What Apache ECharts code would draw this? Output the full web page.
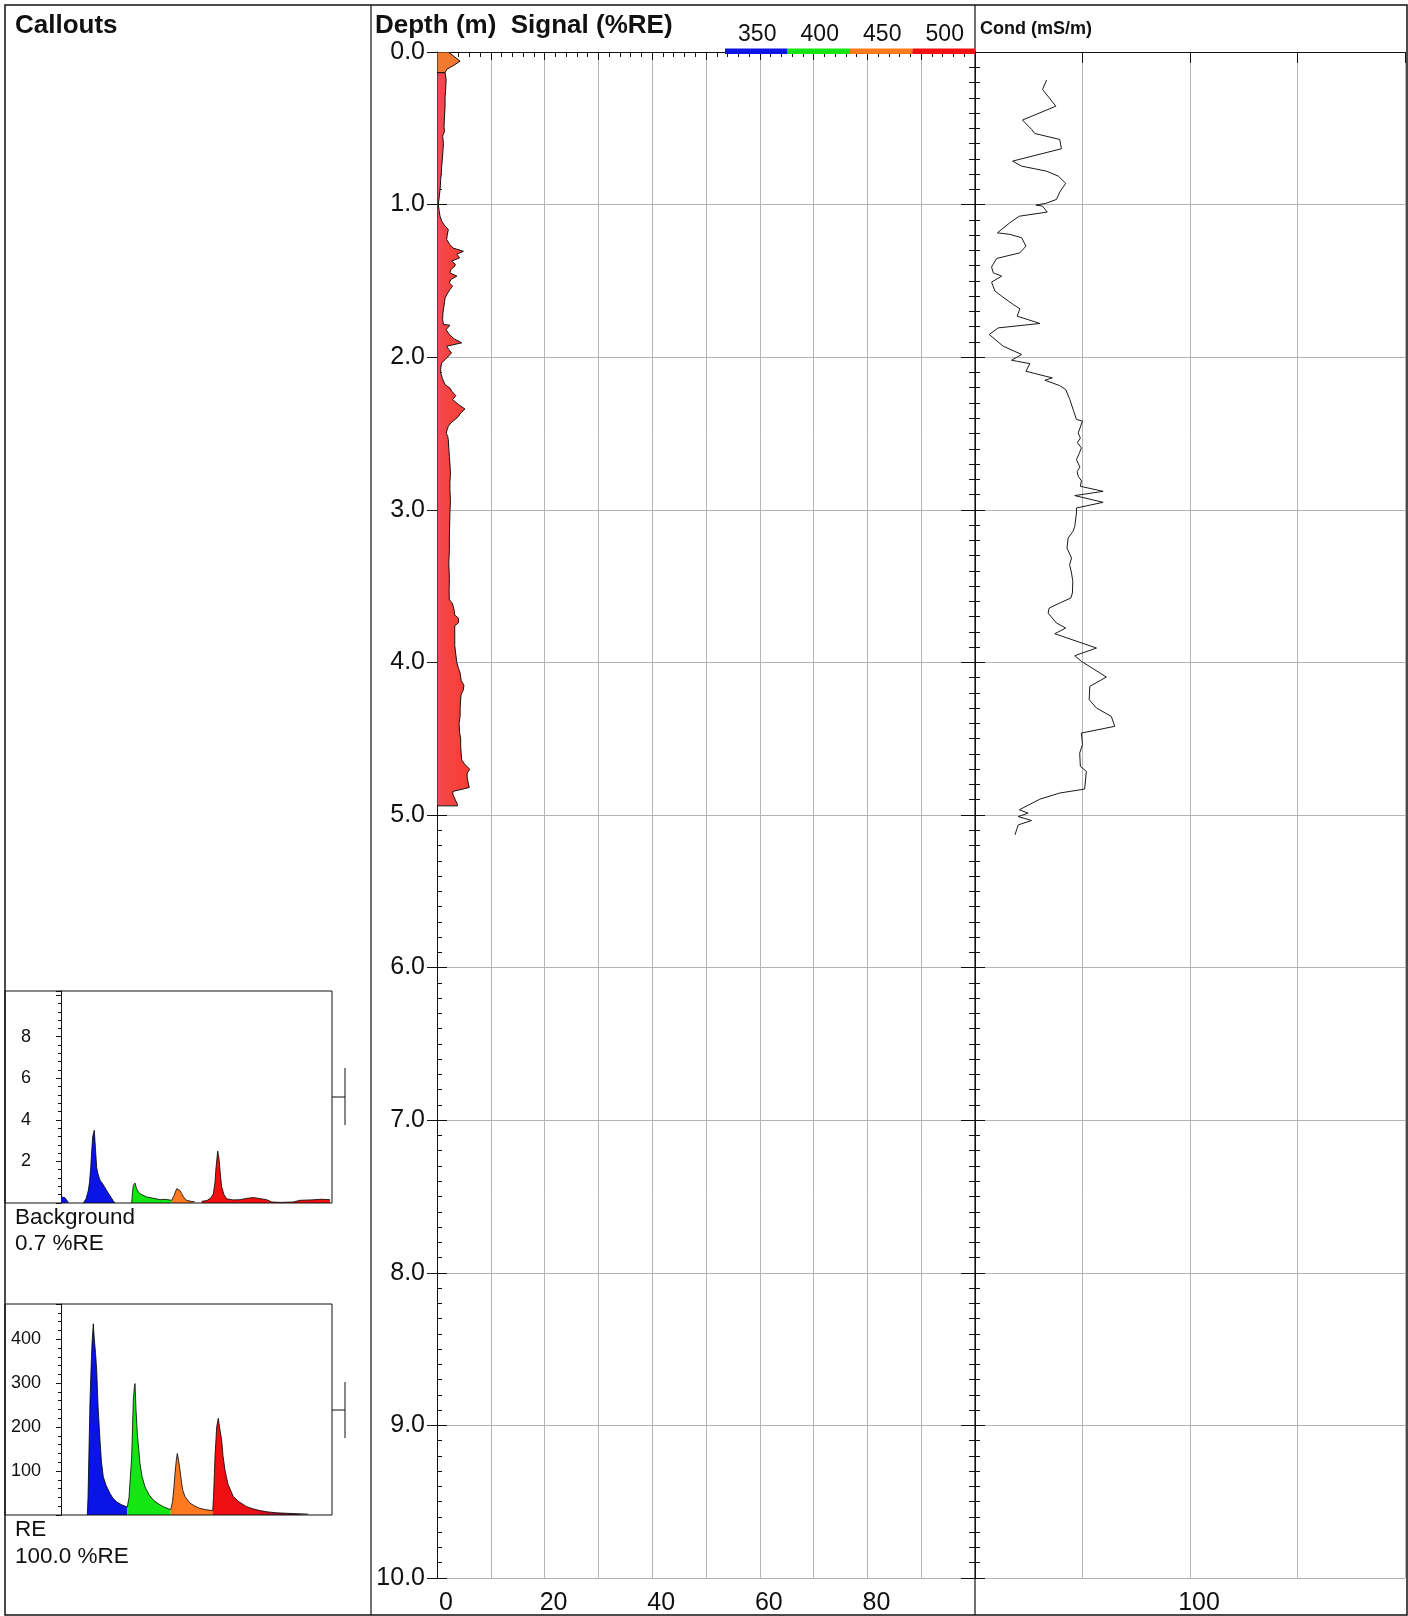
<!DOCTYPE html>
<html><head><meta charset="utf-8">
<script src="https://cdn.jsdelivr.net/npm/echarts/dist/echarts.min.js"></script>
<style>html,body{margin:0;padding:0;background:#fff}#c{width:1408px;height:1616px}</style>
</head><body><div id="c"></div>
<script>
const FONT = "'Liberation Sans', Arial, sans-serif";

// ---- Signal (%RE) vs depth (m) ----
const sigTopDepth = [0.0, 0.03, 0.06, 0.09, 0.114, 0.136];
const sigTopValue = [2.1, 3.2, 4.3, 3.0, 1.8, 1.5];
const sigDepth = [0.136,0.18,0.25,0.30,0.355,0.42,0.486,0.52,0.551,0.60,0.65,0.70,0.748,0.80,0.835,0.89,0.945,0.999,1.04,1.076,1.11,1.141,1.163,1.20,1.229,1.262,1.285,1.306,1.325,1.349,1.371,1.39,1.404,1.425,1.447,1.469,1.49,1.513,1.535,1.557,1.585,1.612,1.64,1.666,1.71,1.754,1.786,1.79,1.819,1.852,1.88,1.906,1.928,1.95,1.972,2.005,2.038,2.07,2.103,2.14,2.18,2.202,2.225,2.252,2.278,2.31,2.34,2.365,2.388,2.41,2.43,2.453,2.475,2.497,2.52,2.541,2.6,2.65,2.7,2.76,2.82,2.869,2.94,3.02,3.1,3.18,3.26,3.35,3.45,3.53,3.59,3.61,3.63,3.66,3.69,3.71,3.74,3.76,3.82,3.89,3.95,4.003,4.04,4.068,4.12,4.15,4.18,4.21,4.24,4.30,4.35,4.40,4.46,4.50,4.55,4.60,4.64,4.67,4.70,4.725,4.75,4.79,4.82,4.846,4.87,4.90,4.93,4.94];
const sigValue = [1.5,1.7,1.6,1.5,1.5,1.4,1.3,1.4,1.05,1.2,1.1,1.0,0.87,0.8,0.68,0.6,0.43,0.25,0.4,0.56,0.9,1.5,2.1,1.9,1.8,2.4,3.0,4.9,3.7,4.2,2.7,3.4,3.3,2.6,2.4,3.7,2.6,2.3,2.9,2.4,1.9,1.5,1.4,1.3,1.1,1.05,1.2,2.4,1.7,2.3,3.2,4.6,1.8,2.2,2.7,1.8,0.87,0.7,0.68,1.0,1.5,2.4,2.8,3.5,2.9,4.0,5.2,4.4,4.0,3.3,2.6,2.1,1.9,1.7,2.0,2.1,2.2,2.3,2.4,2.5,2.4,2.4,2.5,2.4,2.35,2.3,2.3,2.2,2.3,2.25,2.3,2.8,3.0,3.2,3.3,4.0,4.0,3.3,3.3,3.3,3.5,3.7,4.0,4.3,4.5,5.0,4.9,4.5,4.4,4.3,4.3,4.1,4.2,4.4,4.4,4.5,4.6,5.2,6.1,5.6,5.6,5.8,6.0,2.9,3.0,3.4,3.8,3.8];

// ---- Conductivity (mS/m) vs depth (m) ----
const condDepth = [0.184,0.245,0.355,0.446,0.507,0.534,0.573,0.634,0.715,0.748,0.781,0.813,0.861,0.918,0.966,0.992,1.003,1.010,1.049,1.076,1.119,1.185,1.195,1.217,1.272,1.316,1.353,1.408,1.447,1.469,1.508,1.567,1.600,1.655,1.683,1.731,1.779,1.808,1.851,1.928,1.982,2.020,2.026,2.042,2.092,2.125,2.135,2.151,2.186,2.212,2.277,2.354,2.408,2.419,2.496,2.53,2.56,2.594,2.63,2.671,2.72,2.75,2.780,2.81,2.846,2.879,2.907,2.951,2.988,3.021,3.109,3.141,3.185,3.251,3.316,3.36,3.414,3.47,3.545,3.578,3.611,3.644,3.677,3.742,3.775,3.812,3.906,3.956,3.993,4.096,4.157,4.244,4.299,4.354,4.419,4.463,4.539,4.594,4.681,4.714,4.830,4.856,4.896,4.966,4.988,5.010,5.036,5.065,5.130];
const condValue = [33.3,31.4,37.6,22.1,26.3,27.8,39.4,40.2,17.5,21.7,33.3,38.7,42.2,39.4,37.9,32.9,28.3,31.4,33.6,20.6,16.2,10.4,16.2,21.7,23.7,20.9,10.1,7.7,8.5,12.4,7.7,9.3,12.4,17.8,20.9,19.6,30.2,10.8,6.6,13.1,21.7,17.0,19.3,25.5,23.7,32.9,36.0,32.5,39.4,42.2,44.1,45.9,47.2,50.0,48.0,49.0,47.6,49.5,48.5,47.2,48.8,47.5,48.0,49.5,49.0,59.6,46.4,59.6,47.2,47.2,46.4,45.6,43.3,42.8,44.9,44.0,44.9,45.5,45.3,44.6,39.4,34.5,34.0,37.9,42.2,37.1,56.5,46.4,49.5,61.1,53.4,53.1,56.5,63.4,65.0,49.5,50.0,48.7,49.0,51.8,51.0,39.4,30.2,20.6,24.7,20.1,26.3,20.1,18.6];

// ---- Callout waveforms: [sample position, amplitude] per channel ----
const bgBlue0 = [[0,0.3],[2,0.3],[4,0.25],[6,0.12],[7.5,0.02]];
const bgBlue = [[22.3,0],[25,0.2],[27.3,0.6],[28.5,1.0],[29.7,1.7],[30.7,2.5],[31.7,3.2],[33.3,3.5],[34.5,2.6],[35.7,1.7],[37,1.4],[39,1.1],[42,0.9],[45.7,0.6],[49,0.35],[52.3,0.1],[54,0]];
const bgGreen = [[70.7,0],[71.5,0.5],[72.3,0.85],[74,0.96],[75.5,0.7],[77.3,0.53],[80,0.42],[85.7,0.29],[90,0.25],[95,0.2],[99,0.16],[104,0.18],[110.7,0.13]];
const bgOrange = [[110.7,0.13],[113,0.35],[115.7,0.69],[117.3,0.77],[119,0.6],[120.7,0.45],[123,0.25],[125.7,0.13],[130,0.08],[134,0.05]];
const bgRed = [[140.7,0.08],[146,0.12],[150,0.25],[152.3,0.45],[154,1.0],[155,1.7],[156.7,2.5],[157.5,2.3],[158.3,2.0],[159.5,1.3],[160.7,0.77],[163,0.4],[165.7,0.2],[172,0.15],[179,0.16],[185,0.22],[192.3,0.26],[198,0.22],[205.7,0.16],[210.7,0.05],[220,0.03],[232.3,0.05],[239,0.13],[250,0.15],[260,0.18],[269,0.16]];
const reBlue = [[26.3,0],[27,40],[28,150],[29,260],[30,330],[31,390],[32.3,435],[33.3,400],[34.5,370],[35.7,329],[37,250],[39,170],[40.5,120],[42.3,87],[45,68],[49,49],[52,38],[55.7,30],[60,24],[66.3,18]];
const reGreen = [[66.3,18],[68,40],[70.7,132],[72.3,261],[73.3,290],[74,299],[75,240],[76.3,186],[79,117],[81,88],[84,64],[88,46],[92.3,34],[97,26],[102.3,19],[109.7,12]];
const reOrange = [[109.7,12],[111.5,30],[113,65],[114,95],[115.3,125],[116.3,140],[117.5,125],[119,102],[120.5,75],[121.7,57],[124,42],[129,27],[134,20],[139,15],[145,12],[151.7,10]];
const reRed = [[151.7,10],[152.5,40],[154,133],[155.7,201],[157.3,220],[158.5,200],[160.7,170],[162,135],[164,102],[167,70],[172.3,42],[178,30],[185.7,19],[192,14],[199,10],[207,7],[215.7,5],[225,4],[235,3],[247.3,2]];

// ---- Legend / labels ----
const legendLabels = ['350','400','450','500'];
const legendColors = ['#0a14e6','#14e614','#ff7a1e','#f20f0f'];
const sigTickLabels = [0,20,40,60,80];
const condTickLabels = [100];

const chart = echarts.init(document.getElementById('c'), null, {renderer:'canvas'});

function polySeries(name, depths, values, fill) {
  return {
    type:'custom', name, xAxisIndex:0, yAxisIndex:0, z:3, clip:true,
    data:[[0, depths[0]]], encode:{x:0, y:1},
    renderItem:(params, api) => {
      const pts = [api.coord([0, depths[0]])];
      depths.forEach((d,i) => pts.push(api.coord([values[i], d])));
      pts.push(api.coord([0, depths[depths.length-1]]));
      return {type:'polygon', shape:{points:pts}, style:{fill, stroke:'#111', lineWidth:1}};
    }
  };
}
function specSeries(data, color, xi, yi, fill) {
  return {type:'line', data, xAxisIndex:xi, yAxisIndex:yi, showSymbol:false, symbol:'none', z:3,
    lineStyle:{color:'#000', width:0.8}, areaStyle:{color: fill || color, opacity:1}};
}

const txt = {fontFamily:FONT, color:'#111'};
const axBlack = {lineStyle:{color:'#111', width:1}};
const grayGrid = {show:true, lineStyle:{color:'#b4b4b4', width:1}};
const depthBase = {type:'value', inverse:true, min:0, max:10, interval:1, gridIndex:0};

const graphics = [];
// outer frame & panel dividers
graphics.push({type:'rect', shape:{x:5, y:5, width:1402, height:1610}, style:{fill:null, stroke:'#111', lineWidth:1.5}, z:10});
graphics.push({type:'line', shape:{x1:371, y1:5, x2:371, y2:1615}, style:{stroke:'#111', lineWidth:1.2}, z:10});
graphics.push({type:'line', shape:{x1:975, y1:5, x2:975, y2:1615}, style:{stroke:'#111', lineWidth:1.2}, z:10});
// headers
graphics.push({type:'text', x:15, y:26, style:{text:'Callouts', font:'bold 26px '+FONT, fill:'#111', verticalAlign:'middle'}});
graphics.push({type:'text', x:375, y:26, style:{text:'Depth (m)  Signal (%RE)', font:'bold 26px '+FONT, fill:'#111', verticalAlign:'middle'}});
graphics.push({type:'text', x:980, y:29, style:{text:'Cond (mS/m)', font:'bold 18px '+FONT, fill:'#111', verticalAlign:'middle'}});
// legend colour bar
const barX0 = 725, barW = 62.5;
legendLabels.forEach((lab,i) => {
  graphics.push({type:'rect', shape:{x:barX0 + i*barW, y:48.5, width:barW, height:5.5}, style:{fill:legendColors[i]}, z:11});
  graphics.push({type:'text', x:barX0 + i*barW + barW/2 + 1, y:35, style:{text:lab, font:'23px '+FONT, fill:'#111', align:'center', verticalAlign:'middle'}, z:11});
});
// callout boxes
graphics.push({type:'rect', shape:{x:5, y:991, width:327, height:212}, style:{fill:null, stroke:'#111', lineWidth:1}, z:10});
graphics.push({type:'rect', shape:{x:5, y:1304, width:327, height:211}, style:{fill:null, stroke:'#111', lineWidth:1}, z:10});
// callout brackets
[[1068,1125,1097],[1382,1438,1410]].forEach(b => {
  graphics.push({type:'line', shape:{x1:345, y1:b[0], x2:345, y2:b[1]}, style:{stroke:'#111', lineWidth:1}});
  graphics.push({type:'line', shape:{x1:332, y1:b[2], x2:345, y2:b[2]}, style:{stroke:'#111', lineWidth:1}});
});
// callout captions
[['Background',1218],['0.7 %RE',1244],['RE',1530],['100.0 %RE',1557]].forEach(t => {
  graphics.push({type:'text', x:15, y:t[1], style:{text:t[0], font:'22.5px '+FONT, fill:'#111', verticalAlign:'middle'}});
});

const option = {
  animation:false,
  backgroundColor:'#fff',
  grid:[
    {left:437, top:52, width:538, height:1526},
    {left:975, top:52, width:432, height:1526},
    {left:61, top:991, width:271, height:212},
    {left:61, top:1304, width:271, height:211}
  ],
  xAxis:[
    {type:'value', gridIndex:0, position:'bottom', min:0, max:100, interval:10,
      axisLine:{show:true, ...axBlack}, axisTick:{show:true, length:8, ...axBlack},
      minorTick:{show:true, splitNumber:5, length:5, ...axBlack},
      splitLine:grayGrid,
      axisLabel:{...txt, fontSize:25, margin:13, padding:[0,0,0,18],
        formatter:v => sigTickLabels.includes(v) ? String(v) : ''}},
    {type:'value', gridIndex:0, position:'top', min:0, max:100, interval:10,
      axisLine:{show:true, ...axBlack}, axisTick:{show:true, inside:true, length:5, ...axBlack},
      minorTick:{show:true, splitNumber:5, length:5, ...axBlack},
      splitLine:{show:false}, axisLabel:{show:false}},
    {type:'value', gridIndex:1, position:'bottom', min:0, max:200, interval:50,
      axisLine:{show:true, ...axBlack}, axisTick:{show:true, length:11, ...axBlack},
      splitLine:grayGrid,
      axisLabel:{...txt, fontSize:25, margin:13, padding:[0,0,0,18],
        formatter:v => condTickLabels.includes(v) ? String(v) : ''}},
    {type:'value', gridIndex:1, position:'top', min:0, max:200, interval:50,
      axisLine:{show:true, ...axBlack}, axisTick:{show:true, inside:true, length:11, ...axBlack},
      splitLine:{show:false}, axisLabel:{show:false}},
    {type:'value', gridIndex:2, min:0, max:271, show:false},
    {type:'value', gridIndex:3, min:0, max:271, show:false}
  ],
  yAxis:[
    {...depthBase, position:'left',
      axisLine:{show:true, ...axBlack}, axisTick:{show:true, length:10, ...axBlack},
      splitLine:grayGrid,
      axisLabel:{...txt, fontSize:25, margin:12, padding:[10,0,0,0], formatter:v => v.toFixed(1)}},
    {...depthBase, position:'left', offset:66,
      axisLine:{show:false}, axisTick:{show:true, inside:true, length:10, ...axBlack},
      minorTick:{show:true, splitNumber:10, length:5, ...axBlack},
      splitLine:{show:false}, axisLabel:{show:false}},
    {...depthBase, position:'right',
      axisLine:{show:false}, axisTick:{show:true, inside:true, length:14, ...axBlack},
      minorTick:{show:true, splitNumber:10, length:5, ...axBlack},
      splitLine:{show:false}, axisLabel:{show:false}},
    {...depthBase, position:'right',
      axisLine:{show:false}, axisTick:{show:true, inside:false, length:10, ...axBlack},
      minorTick:{show:true, splitNumber:10, length:5, ...axBlack},
      splitLine:{show:false}, axisLabel:{show:false}},
    {...depthBase, gridIndex:1, position:'right',
      axisLine:{show:true, ...axBlack}, axisTick:{show:true, inside:true, length:9, ...axBlack},
      minorTick:{show:true, splitNumber:10, length:6, ...axBlack},
      splitLine:grayGrid, axisLabel:{show:false}},
    {type:'value', gridIndex:2, min:0, max:10.2, interval:2, position:'left',
      axisLine:{show:true, ...axBlack}, axisTick:{show:true, length:5, ...axBlack},
      minorTick:{show:true, splitNumber:5, length:3, ...axBlack},
      splitLine:{show:false},
      axisLabel:{...txt, fontSize:18, align:'center', margin:35, formatter:v => (v>0 && v<=8) ? String(v) : ''}},
    {type:'value', gridIndex:3, min:0, max:480, interval:100, position:'left',
      axisLine:{show:true, ...axBlack}, axisTick:{show:true, length:5, ...axBlack},
      minorTick:{show:true, splitNumber:5, length:3, ...axBlack},
      splitLine:{show:false},
      axisLabel:{...txt, fontSize:18, align:'center', margin:35, formatter:v => (v>0 && v<=400) ? String(v) : ''}}
  ],
  series:[
    polySeries('Signal 450', sigTopDepth, sigTopValue, '#f27a2e'),
    polySeries('Signal 500', sigDepth, sigValue, new echarts.graphic.LinearGradient(0,0,1,0,[{offset:0,color:'#f24a5e'},{offset:0.35,color:'#f5443f'},{offset:1,color:'#fb3c36'}])),
    {type:'line', name:'Cond', xAxisIndex:2, yAxisIndex:4, showSymbol:false, symbol:'none', z:3,
      data:condDepth.map((d,i) => [condValue[i], d]), lineStyle:{color:'#1a1a1a', width:1}},
    specSeries(bgBlue0, legendColors[0], 4, 5),
    specSeries(bgBlue, legendColors[0], 4, 5),
    specSeries(bgGreen, legendColors[1], 4, 5),
    specSeries(bgOrange, legendColors[2], 4, 5),
    specSeries(bgRed, legendColors[3], 4, 5),
    specSeries(reBlue, legendColors[0], 5, 6),
    specSeries(reGreen, legendColors[1], 5, 6),
    specSeries(reOrange, legendColors[2], 5, 6),
    specSeries(reRed, legendColors[3], 5, 6, new echarts.graphic.LinearGradient(0,0,1,0,[{offset:0,color:'#f20f0f'},{offset:0.45,color:'#e8101a'},{offset:0.7,color:'#a01030'},{offset:1,color:'#300010'}]))
  ],
  graphic:graphics
};
chart.setOption(option);
</script></body></html>
